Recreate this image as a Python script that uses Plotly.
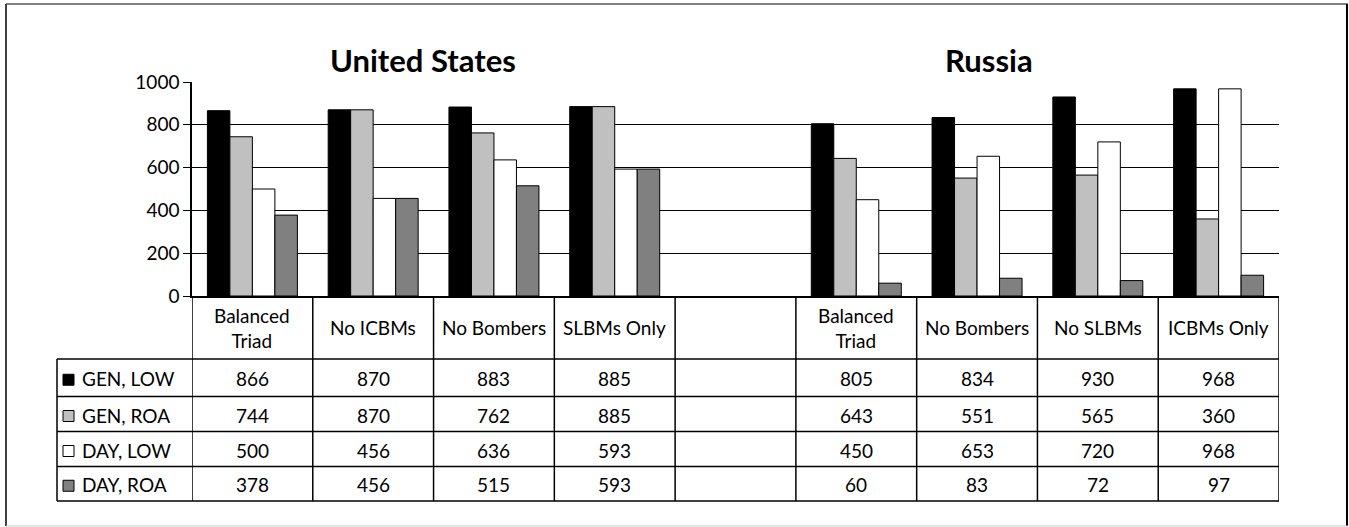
import plotly.graph_objects as go

# ---------------- data ----------------
categories = ["Balanced<br>Triad", "No ICBMs", "No Bombers", "SLBMs Only", "",
              "Balanced<br>Triad", "No Bombers", "No SLBMs", "ICBMs Only"]
series_names = ["GEN, LOW", "GEN, ROA", "DAY, LOW", "DAY, ROA"]
gen_low = [866, 870, 883, 885, None, 805, 834, 930, 968]
gen_roa = [744, 870, 762, 885, None, 643, 551, 565, 360]
day_low = [500, 456, 636, 593, None, 450, 653, 720, 968]
day_roa = [378, 456, 515, 593, None, 60, 83, 72, 97]
group_titles = ["United States", "Russia"]
y_ticks = [0, 200, 400, 600, 800, 1000]

series_values = [gen_low, gen_roa, day_low, day_roa]
colors = ["#000000", "#C0C0C0", "#FFFFFF", "#808080"]

# ---------------- layout geometry (pixels) ----------------
W, H = 1349, 527
L, R, T, B = 192, 1279, 82, 296


def px(X):
    return (X - L) / (R - L)


def py(Y):
    return (B - Y) / (B - T)


FONT = "Lato, 'Open Sans', 'DejaVu Sans', sans-serif"
TS = 19
xs = list(range(len(categories)))

fig = go.Figure()
for name, vals, col in zip(series_names, series_values, colors):
    fig.add_trace(go.Bar(
        x=xs, y=vals, name=name,
        marker=dict(color=col, line=dict(color="#000000", width=1)),
        showlegend=False,
    ))

shapes = []
annotations = []

# table row boundaries (pixel y)
header_bottom = 359
row_lines = [359, 396.5, 431.5, 466.5, 501]
legend_left = 57

# vertical lines at category boundaries
for i in range(len(categories) + 1):
    shapes.append(dict(type="line", xref="x", yref="paper",
                       x0=i - 0.5, x1=i - 0.5, y0=py(B), y1=py(row_lines[-1]),
                       line=dict(color="#000000", width=1.5)))
# legend column left line
shapes.append(dict(type="line", xref="paper", yref="paper",
                   x0=px(legend_left), x1=px(legend_left),
                   y0=py(row_lines[0]), y1=py(row_lines[-1]),
                   line=dict(color="#000000", width=1.5)))
# horizontal lines
for Y in row_lines:
    shapes.append(dict(type="line", xref="paper", yref="paper",
                       x0=px(legend_left), x1=px(R), y0=py(Y), y1=py(Y),
                       line=dict(color="#000000", width=1.5)))

# header texts
for i, c in enumerate(categories):
    if c:
        annotations.append(dict(xref="x", yref="paper", x=i, y=py((B + header_bottom) / 2),
                                text=c, showarrow=False, xanchor="center", yanchor="middle",
                                font=dict(family=FONT, size=TS, color="#000000")))

# rows
for r, (name, vals, col) in enumerate(zip(series_names, series_values, colors)):
    y0, y1 = row_lines[r], row_lines[r + 1]
    yc = (y0 + y1) / 2
    # legend key
    shapes.append(dict(type="rect", xref="paper", yref="paper",
                       x0=px(63), x1=px(74), y0=py(yc - 5 + 1.5), y1=py(yc + 6 + 1.5),
                       fillcolor=col, line=dict(color="#000000", width=1)))
    annotations.append(dict(xref="paper", yref="paper", x=px(80), y=py(yc + 1),
                            text=name, showarrow=False, xanchor="left", yanchor="middle",
                            font=dict(family=FONT, size=TS, color="#000000")))
    for i, v in enumerate(vals):
        if v is not None:
            annotations.append(dict(xref="x", yref="paper", x=i, y=py(yc + 1),
                                    text=str(v), showarrow=False, xanchor="center",
                                    yanchor="middle",
                                    font=dict(family=FONT, size=TS, color="#000000")))

# group titles
annotations.append(dict(xref="paper", yref="paper", x=px(423), y=py(60),
                        text="<b>" + group_titles[0] + "</b>", showarrow=False,
                        xanchor="center", yanchor="middle",
                        font=dict(family=FONT, size=31, color="#000000")))
annotations.append(dict(xref="paper", yref="paper", x=px(989), y=py(60),
                        text="<b>" + group_titles[1] + "</b>", showarrow=False,
                        xanchor="center", yanchor="middle",
                        font=dict(family=FONT, size=31, color="#000000")))

# outer frame
shapes.append(dict(type="line", xref="paper", yref="paper", x0=px(6), x1=px(1348),
                   y0=py(4), y1=py(4), line=dict(color="#808080", width=2)))
shapes.append(dict(type="line", xref="paper", yref="paper", x0=px(6), x1=px(6),
                   y0=py(4), y1=py(526), line=dict(color="#404040", width=2)))
shapes.append(dict(type="line", xref="paper", yref="paper", x0=px(1347), x1=px(1347),
                   y0=py(4), y1=py(526), line=dict(color="#000000", width=2)))
shapes.append(dict(type="line", xref="paper", yref="paper", x0=px(6), x1=px(1348),
                   y0=py(526), y1=py(526), line=dict(color="#C8C8C8", width=1)))

fig.update_layout(
    width=W, height=H,
    margin=dict(l=L, r=W - R, t=T, b=H - B, pad=0),
    paper_bgcolor="#FFFFFF", plot_bgcolor="#FFFFFF",
    barmode="group", bargap=0.255, bargroupgap=0,
    shapes=shapes, annotations=annotations,
    font=dict(family=FONT, size=TS, color="#000000"),
    xaxis=dict(range=[-0.5, len(categories) - 0.5], showticklabels=False,
               showgrid=False, zeroline=False, ticks="",
               showline=True, linecolor="#000000", linewidth=1.5, fixedrange=True),
    yaxis=dict(range=[0, 1000], tickvals=y_ticks, showgrid=True, gridcolor="#000000",
               gridwidth=1, zeroline=False, showline=True, linecolor="#000000",
               linewidth=1.5, ticks="outside", ticklen=7, tickcolor="#000000",
               tickfont=dict(family=FONT, size=TS, color="#000000"), fixedrange=True),
)

fig.write_html("out.html")
